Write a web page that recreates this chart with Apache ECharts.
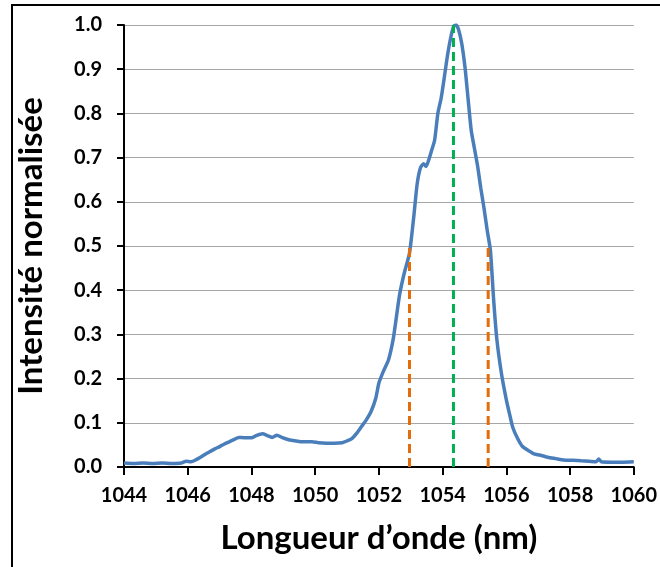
<!DOCTYPE html>
<html><head><meta charset="utf-8">
<script src="https://cdn.jsdelivr.net/npm/echarts@6/dist/echarts.min.js"></script>
<style>html,body{margin:0;padding:0;background:#fff}#c{width:660px;height:567px}</style>
</head><body><div id="c"></div>
<script>
const wavelength = [1044.0,1044.3,1044.6,1044.9,1045.2,1045.5,1045.8,1045.95,1046.1,1046.25,1046.4,1046.55,1046.7,1046.85,1047.0,1047.15,1047.3,1047.45,1047.6,1047.8,1048.0,1048.15,1048.35,1048.5,1048.65,1048.8,1048.95,1049.2,1049.4,1049.6,1049.9,1050.1,1050.35,1050.6,1050.85,1051.0,1051.15,1051.3,1051.45,1051.6,1051.75,1051.9,1052.0,1052.15,1052.3,1052.45,1052.55,1052.65,1052.8,1052.95,1053.0,1053.1,1053.2,1053.3,1053.4,1053.48,1053.56,1053.65,1053.75,1053.85,1053.95,1054.05,1054.15,1054.25,1054.35,1054.42,1054.5,1054.6,1054.7,1054.8,1054.9,1055.0,1055.1,1055.2,1055.3,1055.4,1055.5,1055.6,1055.7,1055.85,1056.0,1056.1,1056.2,1056.35,1056.5,1056.7,1056.9,1057.1,1057.3,1057.55,1057.8,1058.1,1058.35,1058.6,1058.82,1058.9,1058.98,1059.3,1059.6,1060.0];
const intensity = [0.009,0.008,0.009,0.008,0.009,0.008,0.009,0.013,0.012,0.016,0.022,0.029,0.035,0.041,0.046,0.052,0.057,0.062,0.067,0.066,0.066,0.071,0.075,0.071,0.067,0.072,0.067,0.061,0.059,0.057,0.057,0.055,0.054,0.054,0.055,0.059,0.064,0.076,0.091,0.106,0.125,0.155,0.19,0.218,0.242,0.29,0.34,0.39,0.44,0.48,0.505,0.57,0.64,0.676,0.686,0.68,0.694,0.715,0.74,0.8,0.833,0.88,0.93,0.97,0.998,1.0,0.99,0.958,0.906,0.832,0.76,0.72,0.68,0.63,0.585,0.535,0.49,0.38,0.29,0.21,0.152,0.12,0.09,0.065,0.047,0.037,0.029,0.026,0.022,0.019,0.016,0.015,0.014,0.013,0.012,0.018,0.012,0.011,0.011,0.012];
const fwhmLeft = [1052.96, 0.5];
const peakLine = [1054.34, 1.0];
const fwhmRight = [1055.43, 0.5];
const xTitle = "Longueur d\u2019onde (nm)";
const yTitle = "Intensité normalisée";

const FONT = 'Lato, "Open Sans", sans-serif';
const chart = echarts.init(document.getElementById('c'), null, {renderer:'canvas'});
function vline(p, color){
  return {type:'line', data:[[p[0],0],[p[0],p[1]]], symbol:'none', silent:true,
    lineStyle:{color:color, width:3, type:[9,5]}, z:3};
}
chart.setOption({
  animation:false,
  grid:{left:124, right:24, top:25, bottom:100},
  graphic:[{type:'rect', shape:{x:12,y:5,width:700,height:620}, style:{fill:'none', stroke:'#000', lineWidth:2}, z:100}],
  xAxis:{type:'value', min:1044, max:1060, interval:2,
    name:xTitle, nameLocation:'middle', nameGap:55,
    nameTextStyle:{fontFamily:FONT, fontWeight:'bold', fontSize:33, color:'#000'},
    axisLine:{lineStyle:{color:'#000', width:2}},
    axisTick:{length:8, lineStyle:{color:'#000', width:2}},
    axisLabel:{fontFamily:FONT, fontWeight:'bold', fontSize:20, color:'#000', margin:19, formatter:v=>String(v)},
    splitLine:{show:false}},
  yAxis:{type:'value', min:0, max:1, interval:0.1,
    name:yTitle, nameLocation:'middle', nameGap:76, nameRotate:90,
    nameTextStyle:{fontFamily:FONT, fontWeight:'bold', fontSize:33, color:'#000'},
    axisLine:{show:true, lineStyle:{color:'#000', width:2}},
    axisTick:{show:true, length:7, lineStyle:{color:'#000', width:2}},
    axisLabel:{fontFamily:FONT, fontWeight:'bold', fontSize:20, color:'#000', margin:22, formatter:v=>v.toFixed(1)},
    splitLine:{lineStyle:{color:'#a6a6a6', width:1}}},
  series:[
    {type:'line', data:wavelength.map((w,i)=>[w,intensity[i]]), symbol:'none', smooth:0.2,
      lineStyle:{color:'#4a7ebb', width:3.5}, z:2},
    vline(fwhmLeft,'#e46c0a'),
    vline(peakLine,'#00b050'),
    vline(fwhmRight,'#e46c0a')
  ]
});
</script></body></html>
